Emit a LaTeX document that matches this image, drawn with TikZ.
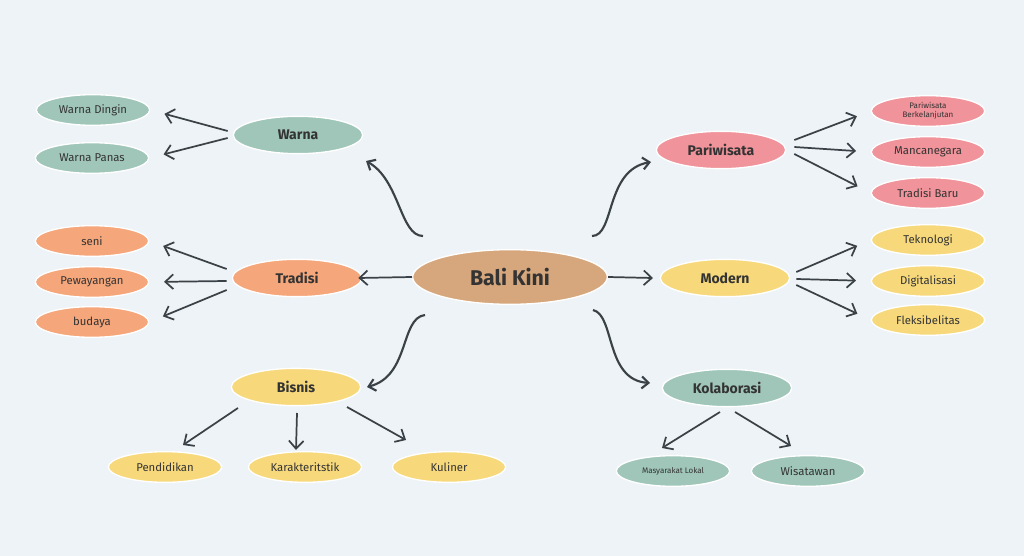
\documentclass[tikz,border=0pt]{standalone}
\usepackage{fontspec}
\setmainfont{Fira Sans}
\usetikzlibrary{shapes.geometric,arrows.meta}
\definecolor{bgc}{HTML}{EDF3F6}
\definecolor{balic}{HTML}{D6A77C}
\definecolor{greenc}{HTML}{A0C6B9}
\definecolor{orangec}{HTML}{F5A67A}
\definecolor{pinkc}{HTML}{F0939A}
\definecolor{yellowc}{HTML}{F7D97C}
\definecolor{txtc}{HTML}{333333}
\definecolor{arrc}{HTML}{3B4247}
\tikzset{
  blob/.style={ellipse, inner sep=0pt, draw=white, line width=1pt, text=txtc},
  mainbox/.style={blob, minimum width=97pt, minimum height=28pt, font=\fontsize{10.5}{12}\selectfont\bfseries},
  leafbox/.style={blob, minimum width=85pt, minimum height=23pt, font=\fontsize{8.5}{10}\selectfont},
  arr/.style={draw=arrc, line width=1.3pt, -{Straight Barb[length=6pt,width=11pt]}},
  curvy/.style={draw=arrc, line width=1.6pt, -{Straight Barb[length=5pt,width=9pt]}}
}
\begin{document}
\begin{tikzpicture}[x=0.75pt,y=-0.75pt]
\fill[bgc] (0,0) rectangle (1024,556);
\useasboundingbox (0,0) rectangle (1024,556);

% centre
\node[blob, fill=balic, minimum width=146pt, minimum height=41pt, font=\fontsize{16}{18}\selectfont\bfseries] (bali) at (510,277) {Bali Kini};

% main branches
\node[mainbox, fill=greenc] (warna) at (298,135) {Warna};
\node[mainbox, fill=orangec] (tradisi) at (297,278) {Tradisi};
\node[mainbox, fill=pinkc] (pari) at (721,150) {Pariwisata};
\node[mainbox, fill=yellowc] (modern) at (725,278) {Modern};
\node[mainbox, fill=greenc] (kolab) at (727,388) {Kolaborasi};
\node[mainbox, fill=yellowc] (bisnis) at (296,387) {Bisnis};

% leaves
\node[leafbox, fill=greenc] (wd) at (93,110) {Warna Dingin};
\node[leafbox, fill=greenc] (wp) at (92,158) {Warna Panas};
\node[leafbox, fill=orangec] (seni) at (92,241) {seni};
\node[leafbox, fill=orangec] (pew) at (92,282) {Pewayangan};
\node[leafbox, fill=orangec] (bud) at (92,322) {budaya};
\node[leafbox, fill=pinkc, font=\fontsize{6}{7}\selectfont, align=center] (pb) at (928,111) {Pariwisata\\Berkelanjutan};
\node[leafbox, fill=pinkc] (manc) at (928,152) {Mancanegara};
\node[leafbox, fill=pinkc] (tb) at (928,193) {Tradisi Baru};
\node[leafbox, fill=yellowc] (tek) at (928,240) {Teknologi};
\node[leafbox, fill=yellowc] (dig) at (928,281) {Digitalisasi};
\node[leafbox, fill=yellowc] (flek) at (928,320) {Fleksibelitas};
\node[leafbox, fill=greenc, font=\fontsize{6}{7}\selectfont] (ml) at (673,471) {Masyarakat Lokal};
\node[leafbox, fill=greenc] (wis) at (808,471) {Wisatawan};
\node[leafbox, fill=yellowc] (pend) at (165,467) {Pendidikan};
\node[leafbox, fill=yellowc] (kar) at (305,467) {Karakteritstik};
\node[leafbox, fill=yellowc] (kul) at (449,467) {Kuliner};

% centre connectors
\draw[curvy] ([shift={(-87,-41)}]bali.center) .. controls ([shift={(-110,-41)}]bali.center) and ([shift={(102,45)}]warna.center) .. ([shift={(68,26)}]warna.center);
\draw[curvy] ([shift={(82,-41)}]bali.center) .. controls ([shift={(105,-41)}]bali.center) and ([shift={(-116,20)}]pari.center) .. ([shift={(-70,12)}]pari.center);
\draw[curvy] ([shift={(-85,38)}]bali.center) .. controls ([shift={(-110,41)}]bali.center) and ([shift={(114,-11)}]bisnis.center) .. ([shift={(71,0)}]bisnis.center);
\draw[curvy] ([shift={(83,33)}]bali.center) .. controls ([shift={(105,38)}]bali.center) and ([shift={(-122,-8)}]kolab.center) .. ([shift={(-77,-5)}]kolab.center);
\draw[arr] (bali.west) -- ([xshift=-3pt]tradisi.east);
\draw[arr] (bali.east) -- ([xshift=-5pt]modern.west);

% Warna
\draw[arr, shorten >=11pt] ([shift={(-5,-4)}]warna.west) -- (wd.east);
\draw[arr, shorten >=11pt] ([shift={(-5,3)}]warna.west) -- (wp.east);
% Tradisi
\draw[arr, shorten >=11pt] ([shift={(-5,-9)}]tradisi.west) -- (seni.east);
\draw[arr, shorten >=11pt] ([shift={(-5,3)}]tradisi.west) -- (pew.east);
\draw[arr, shorten >=11pt] ([shift={(-5,12)}]tradisi.west) -- (bud.east);
% Pariwisata
\draw[arr, shorten >=11pt] ([shift={(8,-10)}]pari.east) -- (pb.west);
\draw[arr, shorten >=11pt] ([shift={(8,-3)}]pari.east) -- (manc.west);
\draw[arr, shorten >=11pt] ([shift={(8,4)}]pari.east) -- (tb.west);
% Modern
\draw[arr, shorten >=11pt] ([shift={(6,-6)}]modern.east) -- (tek.west);
\draw[arr, shorten >=11pt] ([shift={(6,1)}]modern.east) -- (dig.west);
\draw[arr, shorten >=11pt] ([shift={(6,7)}]modern.east) -- (flek.west);
% Bisnis
\draw[arr] ([shift={(-58,21)}]bisnis.center) -- ([shift={(18,-22)}]pend.center);
\draw[arr] ([shift={(1,26)}]bisnis.center) -- ([shift={(-9,-17)}]kar.center);
\draw[arr] ([shift={(51,20)}]bisnis.center) -- ([shift={(-43,-27)}]kul.center);
% Kolaborasi
\draw[arr] ([shift={(-7,24)}]kolab.center) -- ([shift={(-11,-23)}]ml.center);
\draw[arr] ([shift={(8,24)}]kolab.center) -- ([shift={(-17,-25)}]wis.center);
\end{tikzpicture}
\end{document}
